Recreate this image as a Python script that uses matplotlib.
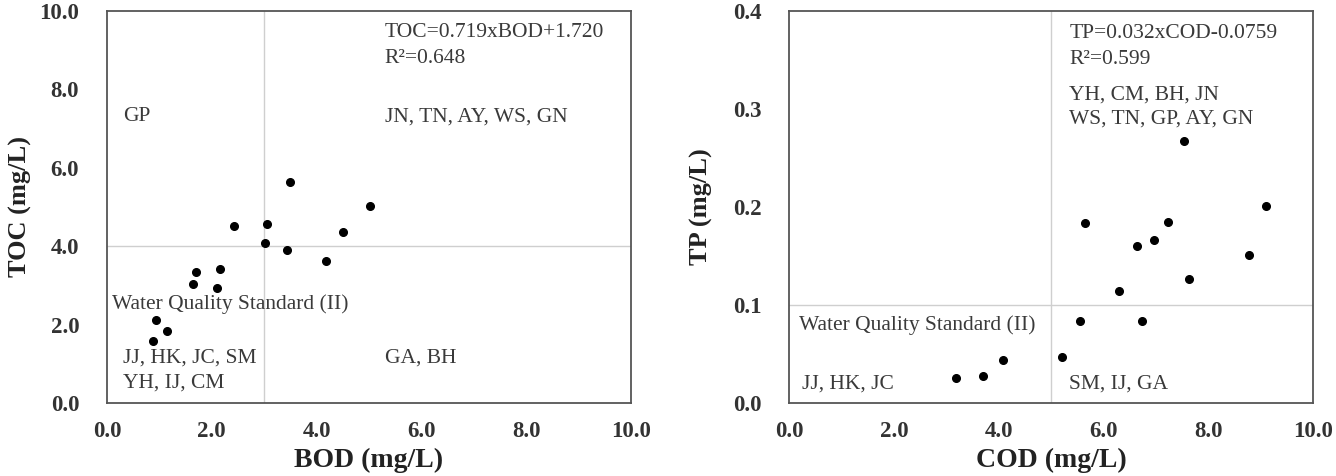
import matplotlib.pyplot as plt
import numpy as np

plt.rcParams['font.family'] = ['Liberation Serif', 'DejaVu Serif']

# BOD vs TOC
bod = [3.49, 5.02, 2.42, 3.06, 4.50, 3.02, 3.43, 4.18, 1.70, 2.15, 1.65, 2.09, 0.94, 1.15, 0.88]
toc = [5.65, 5.03, 4.51, 4.57, 4.37, 4.07, 3.90, 3.61, 3.33, 3.41, 3.03, 2.93, 2.11, 1.84, 1.59]

# COD vs TP
cod = [7.54, 9.10, 5.64, 7.23, 6.96, 6.65, 8.78, 7.63, 6.29, 5.56, 6.73, 5.20, 4.08, 3.70, 3.19]
tp = [0.267, 0.201, 0.184, 0.185, 0.166, 0.160, 0.151, 0.127, 0.114, 0.084, 0.084, 0.047, 0.044, 0.028, 0.026]

bod_std, toc_std = 3.0, 4.0
cod_std, tp_std = 5.0, 0.1

x_ticks = [0, 2, 4, 6, 8, 10]
toc_ticks = [0, 2, 4, 6, 8, 10]
tp_ticks = [0.0, 0.1, 0.2, 0.3, 0.4]

fig = plt.figure(figsize=(13.36, 4.76), dpi=100)
ax1 = fig.add_axes([0.0801, 0.1534, 0.3922, 0.8235])
ax2 = fig.add_axes([0.5906, 0.1534, 0.3922, 0.8235])

txt_color = '#3a3a3a'
line_color = '#cfcfcf'


def style(ax, xlabel, ylabel, yticks, yfmt, ypad):
    ax.set_xlim(0, 10)
    ax.set_ylim(yticks[0], yticks[-1])
    ax.set_xticks(x_ticks)
    ax.set_xticklabels([f"{v:.1f}" for v in x_ticks])
    ax.set_yticks(yticks)
    ax.set_yticklabels([yfmt.format(v) for v in yticks])
    ax.tick_params(length=0, labelsize=16.5, colors='#333333')
    ax.tick_params(axis='y', pad=20)
    ax.tick_params(axis='x', pad=13)
    for lbl in ax.get_xticklabels() + ax.get_yticklabels():
        lbl.set_fontweight('bold')
    for sp in ax.spines.values():
        sp.set_color('#555555')
        sp.set_linewidth(1.3)
    ax.set_xlabel(xlabel, fontsize=20, fontweight='bold', color='#222222', labelpad=4)
    ax.set_ylabel(ylabel, fontsize=19, fontweight='bold', color='#222222', labelpad=ypad)


# left panel
ax1.axvline(bod_std, color=line_color, lw=1.0, zorder=1)
ax1.axhline(toc_std, color=line_color, lw=1.0, zorder=1)
ax1.plot(bod, toc, 'o', color='black', markersize=5.5, zorder=3)
style(ax1, 'BOD (mg/L)', 'TOC (mg/L)', toc_ticks, "{:.1f}", 5)
fs = 15.5
ax1.text(5.30, 9.44, 'TOC=0.719xBOD+1.720', fontsize=fs, color=txt_color, va='center')
ax1.text(5.30, 8.80, 'R²=0.648', fontsize=fs, color=txt_color, va='center')
ax1.text(0.30, 7.30, 'GP', fontsize=fs, color=txt_color, va='center')
ax1.text(5.30, 7.30, 'JN, TN, AY, WS, GN', fontsize=fs, color=txt_color, va='center')
ax1.text(0.10, 2.53, 'Water Quality Standard (II)', fontsize=fs, color=txt_color, va='center')
ax1.text(0.30, 1.14, 'JJ, HK, JC, SM', fontsize=fs, color=txt_color, va='center')
ax1.text(0.30, 0.51, 'YH, IJ, CM', fontsize=fs, color=txt_color, va='center')
ax1.text(5.30, 1.14, 'GA, BH', fontsize=fs, color=txt_color, va='center')

# right panel
ax2.axvline(cod_std, color=line_color, lw=1.0, zorder=1)
ax2.axhline(tp_std, color=line_color, lw=1.0, zorder=1)
ax2.plot(cod, tp, 'o', color='black', markersize=5.5, zorder=3)
style(ax2, 'COD (mg/L)', 'TP (mg/L)', tp_ticks, "{:.1f}", 14)
ax2.text(5.35, 0.377, 'TP=0.032xCOD-0.0759', fontsize=fs, color=txt_color, va='center')
ax2.text(5.35, 0.351, 'R²=0.599', fontsize=fs, color=txt_color, va='center')
ax2.text(5.35, 0.314, 'YH, CM, BH, JN', fontsize=fs, color=txt_color, va='center')
ax2.text(5.35, 0.290, 'WS, TN, GP, AY, GN', fontsize=fs, color=txt_color, va='center')
ax2.text(0.19, 0.079, 'Water Quality Standard (II)', fontsize=fs, color=txt_color, va='center')
ax2.text(0.24, 0.019, 'JJ, HK, JC', fontsize=fs, color=txt_color, va='center')
ax2.text(5.35, 0.019, 'SM, IJ, GA', fontsize=fs, color=txt_color, va='center')

fig.savefig('out.png', dpi=100)
